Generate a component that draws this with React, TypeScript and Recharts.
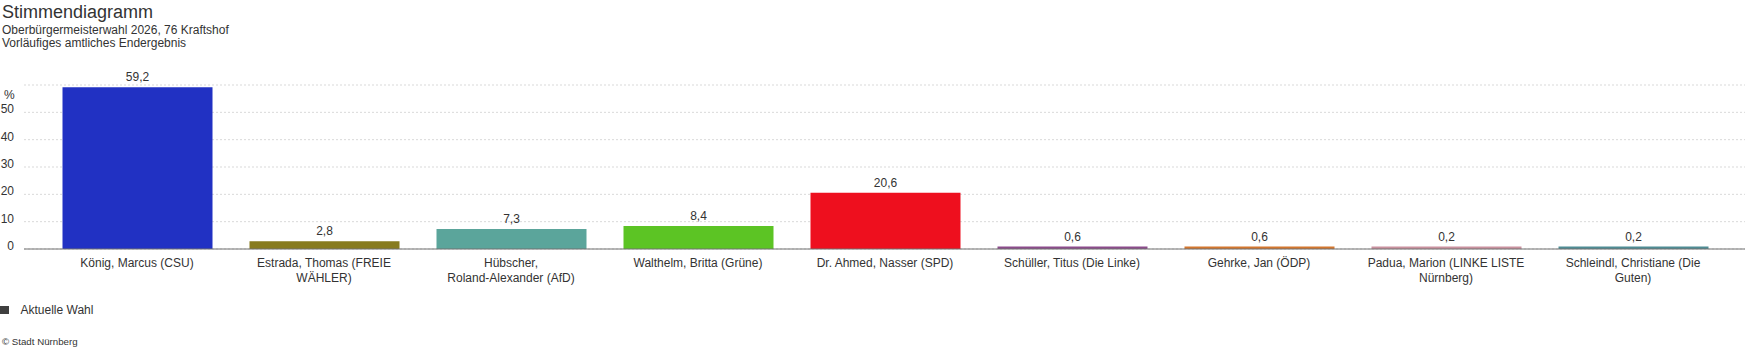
import { BarChart, Bar, XAxis, YAxis, CartesianGrid, Cell, LabelList } from "recharts";

const candidates = [
  "König, Marcus (CSU)",
  "Estrada, Thomas (FREIE\nWÄHLER)",
  "Hübscher,\nRoland-Alexander (AfD)",
  "Walthelm, Britta (Grüne)",
  "Dr. Ahmed, Nasser (SPD)",
  "Schüller, Titus (Die Linke)",
  "Gehrke, Jan (ÖDP)",
  "Padua, Marion (LINKE LISTE\nNürnberg)",
  "Schleindl, Christiane (Die\nGuten)",
];
const shares = [59.2, 2.8, 7.3, 8.4, 20.6, 0.6, 0.6, 0.2, 0.2];
const partyColors = [
  "#2131c3",
  "#877b1f",
  "#5ba59b",
  "#5cc424",
  "#ee0f1e",
  "#8b4c8b",
  "#d3772f",
  "#c9929f",
  "#4f8c94",
];
const yTicks = [0, 10, 20, 30, 40, 50];

const FONT = '"Liberation Sans", Arial, sans-serif';
const TEXT = "#333333";

const data = candidates.map((name, i) => ({
  name,
  value: shares[i],
  color: partyColors[i],
}));

const fmt = (v: number) => v.toFixed(1).replace(".", ",");

function XTick(props: any) {
  const { x, y, payload } = props;
  const lines = String(payload.value).split("\n");
  return (
    <text x={x} y={y + 17.5} textAnchor="middle" fill={TEXT} fontSize={12} fontFamily={FONT}>
      {lines.map((line, i) => (
        <tspan key={i} x={x} dy={i === 0 ? 0 : 15}>
          {line}
        </tspan>
      ))}
    </text>
  );
}

function YTick(props: any) {
  const { x, y, payload } = props;
  return (
    <text x={x} y={y + 1} textAnchor="end" fill={TEXT} fontSize={12} fontFamily={FONT}>
      {payload.value}
    </text>
  );
}

export default function App() {
  return (
    <div style={{ position: "absolute", left: 0, top: 0, width: 1745, height: 352, background: "#fff" }}>
      <svg width={1745} height={352} style={{ position: "absolute", left: 0, top: 0 }}>
        <text x={2} y={18} fontSize={18} fill={TEXT} fontFamily={FONT}>
          Stimmendiagramm
        </text>
        <text x={2} y={34} fontSize={12} fill={TEXT} fontFamily={FONT}>
          Oberbürgermeisterwahl 2026, 76 Kraftshof
        </text>
        <text x={2} y={47} fontSize={12} fill={TEXT} fontFamily={FONT}>
          Vorläufiges amtliches Endergebnis
        </text>
        <text x={4} y={98.5} fontSize={12} fill={TEXT} fontFamily={FONT}>
          %
        </text>
        <rect x={0} y={306} width={9} height={8} fill="#3f3f3f" />
        <text x={20.5} y={314} fontSize={12} fill={TEXT} fontFamily={FONT}>
          Aktuelle Wahl
        </text>
        <text x={2} y={345} fontSize={9.7} fill={TEXT} fontFamily={FONT}>
          © Stadt Nürnberg
        </text>
      </svg>
      <div style={{ position: "absolute", left: 0, top: 0 }}>
        <BarChart
          width={1745}
          height={300}
          data={data}
          margin={{ top: 85, right: 0, bottom: 0, left: 0 }}
        >
          <CartesianGrid
            vertical={false}
            stroke="#d9d9d9"
            strokeDasharray="2 2"
          />
          <XAxis
            dataKey="name"
            interval={0}
            height={51}
            padding={{ left: 19.5, right: 18.5 }}
            tickLine={false}
            tickSize={0}
            tickMargin={0}
            axisLine={{ stroke: "#707070", strokeWidth: 1 }}
            tick={<XTick />}
          />
          <YAxis
            width={24}
            domain={[0, 60]}
            ticks={yTicks}
            axisLine={false}
            tickLine={false}
            tickSize={0}
            tickMargin={10}
            tick={<YTick />}
          />
          <Bar dataKey="value" barSize={150} minPointSize={2.5} isAnimationActive={false}>
            {data.map((d, i) => (
              <Cell key={i} fill={d.color} />
            ))}
            <LabelList
              dataKey="value"
              position="top"
              offset={6}
              formatter={(v: any) => fmt(Number(v))}
              style={{ fill: TEXT, fontSize: 12, fontFamily: FONT }}
            />
          </Bar>
        </BarChart>
      </div>
    </div>
  );
}
